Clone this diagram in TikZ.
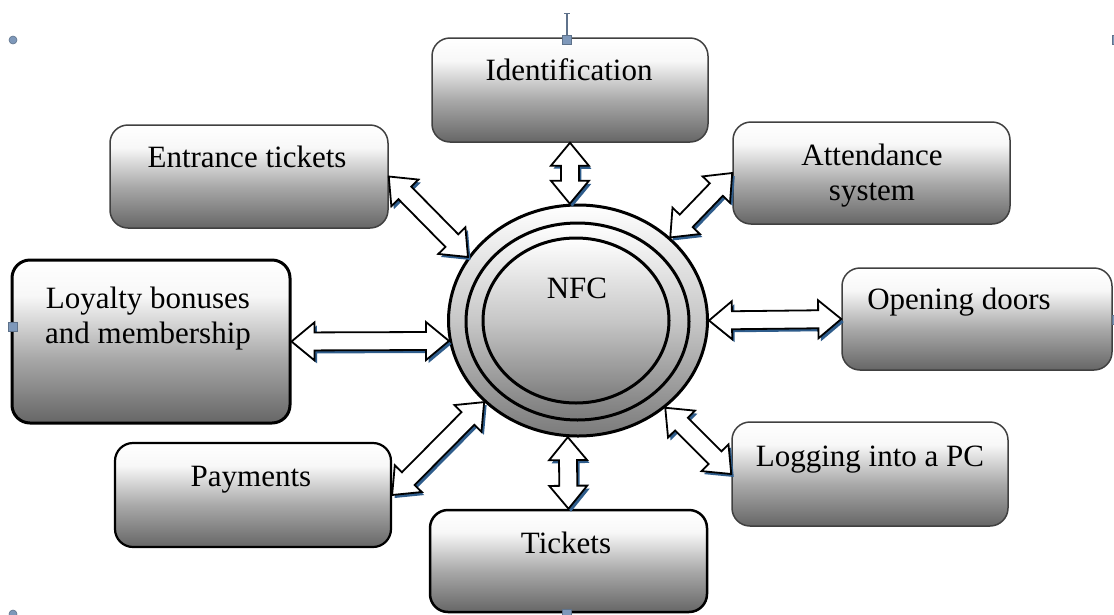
\documentclass[tikz,border=0pt]{standalone}
\usepackage{fontspec}
\setmainfont{Liberation Serif}
\usetikzlibrary{shapes.geometric,calc}
\definecolor{shblue}{HTML}{2F5D8C}
\definecolor{hdl}{HTML}{7E98BA}
\pgfdeclareverticalshading{boxshade}{100bp}{color(0bp)=(black!60); color(25bp)=(black!60); color(45bp)=(black!34); color(64bp)=(black!3); color(75bp)=(white); color(100bp)=(white)}
\pgfdeclareverticalshading{ringshade}{100bp}{color(0bp)=(black!52); color(25bp)=(black!52); color(50bp)=(black!22); color(75bp)=(white); color(100bp)=(white)}
\newcommand\arrowpath[2]{(#1) -- ($(#1)!29.83pt!39.56:(#2)$) -- ($(#1)!24.70pt!21.37:(#2)$) -- ($(#2)!24.70pt!-21.37:(#1)$) -- ($(#2)!29.83pt!-39.56:(#1)$) -- (#2) -- ($(#2)!29.83pt!39.56:(#1)$) -- ($(#2)!24.70pt!21.37:(#1)$) -- ($(#1)!24.70pt!-21.37:(#2)$) -- ($(#1)!29.83pt!-39.56:(#2)$) -- cycle}
\newcommand\dblarrow[2]{%
  \begin{scope}[transform canvas={xshift=2.5pt,yshift=-3pt}]
  \fill[shblue] \arrowpath{#1}{#2};
  \end{scope}
  \filldraw[fill=white, draw=black, line width=1.8pt, line join=miter] \arrowpath{#1}{#2};}
\tikzset{
  box/.style={draw=black!75, line width=1.5pt, rounded corners=18pt, shading=boxshade, inner sep=0pt},
  ring/.style={ellipse, draw=black, line width=3pt, shading=ringshade, inner sep=0pt},
  lbl/.style={font=\fontsize{31}{35}\selectfont, inner sep=0pt, anchor=base, align=center},
  handle/.style={fill=hdl, draw=hdl!75!black, line width=0.6pt}
}
\begin{document}
\begin{tikzpicture}[x=1pt,y=-1pt]
\useasboundingbox (0,0) rectangle (1114,614);
% boxes
\node[box, minimum width=276pt, minimum height=104pt] (id) at (570,90) {};
\node[box, minimum width=278pt, minimum height=103pt] (ent) at (249,176.5) {};
\node[box, minimum width=277pt, minimum height=102pt] (att) at (871.5,173) {};
\node[box, draw=black, line width=3pt, minimum width=278pt, minimum height=163pt] (loy) at (151,341.5) {};
\node[box, minimum width=270pt, minimum height=102pt] (door) at (977,319) {};
\node[box, draw=black, line width=2.2pt, minimum width=276pt, minimum height=104pt] (pay) at (253,495) {};
\node[box, minimum width=276pt, minimum height=104pt] (log) at (870,474) {};
\node[box, draw=black, line width=2.5pt, minimum width=277pt, minimum height=102pt] (tick) at (568.5,561) {};
% NFC rings
\node[ring, minimum width=259pt, minimum height=231pt] (nfc) at (578,320.5) {};
\node[ring, minimum width=223pt, minimum height=197pt] (nfcm) at (577.5,321.5) {};
\node[ring, minimum width=186pt, minimum height=165pt] (nfci) at (576,320.5) {};
% labels
\node[lbl] (tid) at (569,80) {Identification};
\node[lbl] (tent) at (247,167) {Entrance tickets};
\node[lbl] (tatt) at (872,200) {Attendance\\system};
\node[lbl] (tloy) at (148,343) {Loyalty bonuses\\and membership};
\node[lbl] (tdoor) at (959,309) {Opening doors};
\node[lbl] (tpay) at (251,486) {Payments};
\node[lbl] (tlog) at (870,466) {Logging into a PC};
\node[lbl] (ttick) at (566,553) {Tickets};
\node[lbl] (tnfc) at (577,298) {NFC};
% connectors
\dblarrow{id.south}{nfc.94}
\dblarrow{ent.east}{nfc.150}
\dblarrow{att.west}{nfc.42}
\dblarrow{loy.east}{nfc.189}
\dblarrow{nfc.0}{door.west}
\dblarrow{pay.east}{nfc.221}
\dblarrow{nfc.315}{log.west}
\dblarrow{nfc.265}{tick.north}
% selection handles
\draw[hdl!75!black, line width=1.2pt] (567,40) -- (567,13);
\draw[hdl!75!black, line width=1pt] (564,13) -- (570,13);
\filldraw[handle] (562.5,35.5) rectangle (571.5,44.5);
\filldraw[handle] (13,40) circle (4pt);
\filldraw[handle] (8.5,322.5) rectangle (17.5,331.5);
\filldraw[handle] (13,614) circle (4pt);
\filldraw[handle] (562.5,609.5) rectangle (571.5,618.5);
\filldraw[handle] (1112,35.5) rectangle (1117,44.5);
\filldraw[handle] (1112,315.5) rectangle (1117,324.5);
\end{tikzpicture}
\end{document}
